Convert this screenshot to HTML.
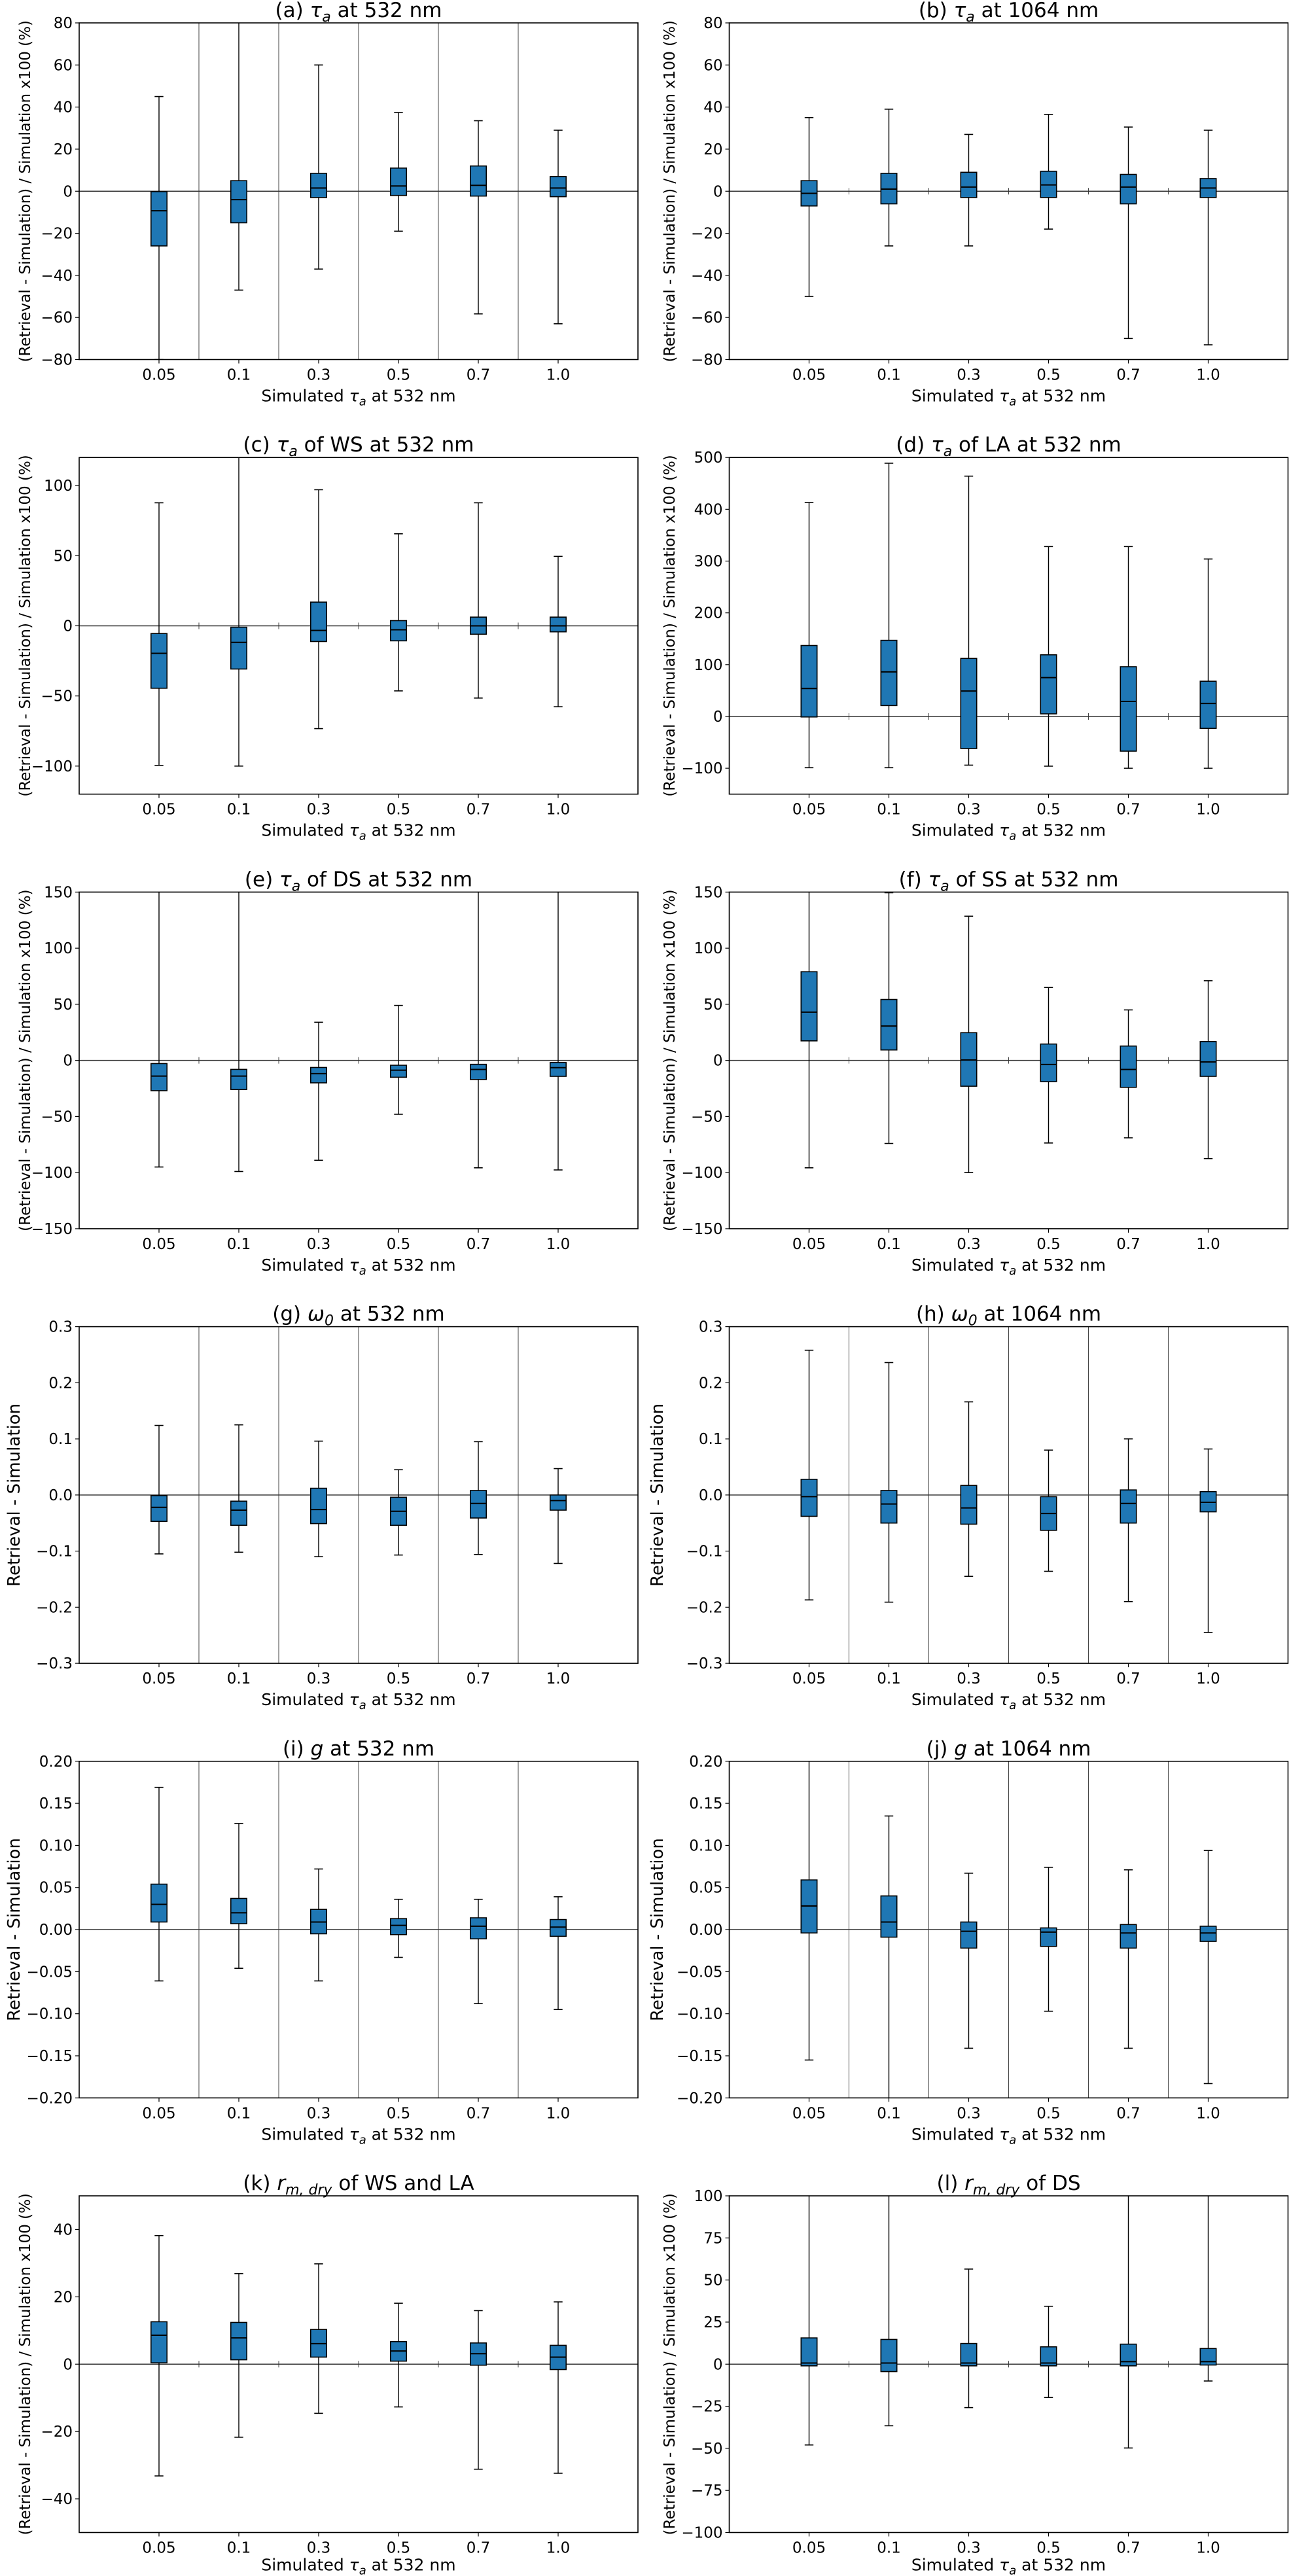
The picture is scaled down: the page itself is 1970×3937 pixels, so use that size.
<!DOCTYPE html>
<html><head><meta charset="utf-8">
<style>
html,body{margin:0;padding:0;background:#fff;}
svg{display:block;font-family:"DejaVu Sans","Liberation Sans",sans-serif;}
</style></head>
<body>
<svg id="fig" xmlns="http://www.w3.org/2000/svg" width="1970" height="3937" viewBox="0 0 1970 3937"></svg>
<script>
// ---- shared category data ----
const categories = ["0.05","0.1","0.3","0.5","0.7","1.0"];

// ---- panel (a) tau_a 532 ----
const aLow = [-80, -47, -37, -19, -58.3, -63];
const aQ1 = [-26, -15, -3, -2, -2.3, -2.6];
const aMed = [-9.3, -4, 1.5, 2.5, 2.8, 1.5];
const aQ3 = [-0.2, 5, 8.5, 11, 12, 7];
const aHigh = [45, 200, 60, 37.4, 33.5, 29];
const aTicks = [-80,-60,-40,-20,0,20,40,60,80];
// ---- panel (b) tau_a 1064 ----
const bLow = [-50, -26, -26, -18, -70, -73];
const bQ1 = [-7, -6, -3, -3, -6, -3];
const bMed = [-1, 1, 2, 3, 2, 1.5];
const bQ3 = [5, 8.5, 9, 9.5, 8, 6];
const bHigh = [35, 39, 27, 36.5, 30.5, 29];
const bTicks = [-80,-60,-40,-20,0,20,40,60,80];
// ---- panel (c) WS ----
const cLow = [-99.5, -100, -73.3, -46.4, -51.5, -57.7];
const cQ1 = [-44.5, -30.8, -11.2, -10.7, -6, -4.3];
const cMed = [-19.6, -11.8, -3.3, -2.8, 0, 0];
const cQ3 = [-5.5, -1, 16.9, 3.7, 6.2, 6.2];
const cHigh = [87.7, 200, 97, 65.6, 87.7, 49.5];
const cTicks = [-100,-50,0,50,100];
// ---- panel (d) LA ----
const dLow = [-99, -99, -94, -96, -100, -100];
const dQ1 = [-1, 21, -62, 5, -67, -23];
const dMed = [54, 86, 49, 75, 29, 25];
const dQ3 = [137, 147, 112, 119, 96, 68];
const dHigh = [413, 489, 464, 328, 328, 304];
const dTicks = [-100,0,100,200,300,400,500];
// ---- panel (e) DS ----
const eLow = [-95, -99, -89, -48, -95.7, -97.6];
const eQ1 = [-27, -26, -20, -15, -17, -14.2];
const eMed = [-14, -14, -11.8, -8.7, -8.1, -6.5];
const eQ3 = [-2.8, -8, -6.3, -4.3, -3.5, -1.8];
const eHigh = [200, 200, 34, 49, 200, 200];
const eTicks = [-150,-100,-50,0,50,100,150];
// ---- panel (f) SS ----
const fLow = [-95.7, -74, -100, -73.6, -69, -87.5];
const fQ1 = [17.4, 9.3, -23, -19, -24, -14.2];
const fMed = [43, 30.6, 0.4, -3.6, -8.1, -1.4];
const fQ3 = [79, 54.3, 24.7, 14.6, 12.8, 16.8];
const fHigh = [200, 149.4, 128.5, 65, 45, 71];
const fTicks = [-150,-100,-50,0,50,100,150];
// ---- panel (g) w0 532 ----
const gLow = [-0.105, -0.102, -0.110, -0.107, -0.106, -0.122];
const gQ1 = [-0.047, -0.054, -0.051, -0.054, -0.041, -0.027];
const gMed = [-0.022, -0.027, -0.026, -0.029, -0.015, -0.010];
const gQ3 = [-0.001, -0.011, 0.012, -0.004, 0.008, 0.0];
const gHigh = [0.124, 0.125, 0.096, 0.045, 0.095, 0.047];
const gTicks = [-0.3,-0.2,-0.1,0,0.1,0.2,0.3];
// ---- panel (h) w0 1064 ----
const hLow = [-0.187, -0.191, -0.145, -0.136, -0.190, -0.245];
const hQ1 = [-0.038, -0.050, -0.052, -0.063, -0.050, -0.030];
const hMed = [-0.003, -0.016, -0.023, -0.033, -0.015, -0.013];
const hQ3 = [0.028, 0.008, 0.017, -0.003, 0.009, 0.006];
const hHigh = [0.258, 0.236, 0.166, 0.080, 0.100, 0.082];
const hTicks = [-0.3,-0.2,-0.1,0,0.1,0.2,0.3];
// ---- panel (i) g 532 ----
const iLow = [-0.061, -0.046, -0.061, -0.033, -0.088, -0.095];
const iQ1 = [0.009, 0.007, -0.005, -0.006, -0.011, -0.008];
const iMed = [0.030, 0.020, 0.009, 0.005, 0.004, 0.003];
const iQ3 = [0.054, 0.037, 0.024, 0.013, 0.014, 0.012];
const iHigh = [0.169, 0.126, 0.072, 0.036, 0.036, 0.039];
const iTicks = [-0.2,-0.15,-0.1,-0.05,0,0.05,0.1,0.15,0.2];
// ---- panel (j) g 1064 ----
const jLow = [-0.155, -0.3, -0.141, -0.097, -0.141, -0.183];
const jQ1 = [-0.004, -0.009, -0.022, -0.020, -0.022, -0.014];
const jMed = [0.028, 0.009, -0.002, -0.003, -0.004, -0.004];
const jQ3 = [0.059, 0.040, 0.009, 0.002, 0.006, 0.004];
const jHigh = [0.3, 0.135, 0.067, 0.074, 0.071, 0.094];
const jTicks = [-0.2,-0.15,-0.1,-0.05,0,0.05,0.1,0.15,0.2];
// ---- panel (k) rm,dry WS & LA ----
const kLow = [-33.2, -21.7, -14.6, -12.7, -31.2, -32.4];
const kQ1 = [0.4, 1.3, 2.1, 0.9, -0.3, -1.6];
const kMed = [8.6, 7.8, 6.1, 3.9, 3.1, 2.1];
const kQ3 = [12.6, 12.4, 10.3, 6.7, 6.3, 5.6];
const kHigh = [38.2, 26.9, 29.8, 18.1, 15.9, 18.5];
const kTicks = [-40,-20,0,20,40];
// ---- panel (l) rm,dry DS ----
const lLow = [-48, -36.6, -25.8, -19.8, -49.8, -10];
const lQ1 = [-1, -4.4, -1, -1, -1, -0.5];
const lMed = [0.7, 0.7, 0.7, 0.7, 1.5, 1.5];
const lQ3 = [15.6, 14.7, 12.3, 10.3, 11.9, 9.3];
const lHigh = [200, 200, 56.5, 34.4, 200, 200];
const lTicks = [-100,-75,-50,-25,0,25,50,75,100];

const NS = "http://www.w3.org/2000/svg";
const svg = document.getElementById("fig");
const LABEL_PCT = "(Retrieval - Simulation) / Simulation x100 (%)";
const LABEL_ABS = "Retrieval - Simulation";

const panels = [
  {id:"a", sym:"τ", sub:"a", rest:" at 532 nm", lo:aLow,q1:aQ1,md:aMed,q3:aQ3,hi:aHigh,ticks:aTicks,ymin:-80,ymax:80,dec:0,grid:true,yl:LABEL_PCT},
  {id:"b", sym:"τ", sub:"a", rest:" at 1064 nm", lo:bLow,q1:bQ1,md:bMed,q3:bQ3,hi:bHigh,ticks:bTicks,ymin:-80,ymax:80,dec:0,grid:false,yl:LABEL_PCT},
  {id:"c", sym:"τ", sub:"a", rest:" of WS at 532 nm", lo:cLow,q1:cQ1,md:cMed,q3:cQ3,hi:cHigh,ticks:cTicks,ymin:-120,ymax:120,dec:0,grid:false,yl:LABEL_PCT},
  {id:"d", sym:"τ", sub:"a", rest:" of LA at 532 nm", lo:dLow,q1:dQ1,md:dMed,q3:dQ3,hi:dHigh,ticks:dTicks,ymin:-150,ymax:500,dec:0,grid:false,yl:LABEL_PCT},
  {id:"e", sym:"τ", sub:"a", rest:" of DS at 532 nm", lo:eLow,q1:eQ1,md:eMed,q3:eQ3,hi:eHigh,ticks:eTicks,ymin:-150,ymax:150,dec:0,grid:false,yl:LABEL_PCT},
  {id:"f", sym:"τ", sub:"a", rest:" of SS at 532 nm", lo:fLow,q1:fQ1,md:fMed,q3:fQ3,hi:fHigh,ticks:fTicks,ymin:-150,ymax:150,dec:0,grid:false,yl:LABEL_PCT},
  {id:"g", sym:"ω", sub:"0", rest:" at 532 nm", lo:gLow,q1:gQ1,md:gMed,q3:gQ3,hi:gHigh,ticks:gTicks,ymin:-0.3,ymax:0.3,dec:1,grid:true,yl:LABEL_ABS},
  {id:"h", sym:"ω", sub:"0", rest:" at 1064 nm", lo:hLow,q1:hQ1,md:hMed,q3:hQ3,hi:hHigh,ticks:hTicks,ymin:-0.3,ymax:0.3,dec:1,grid:true,yl:LABEL_ABS},
  {id:"i", sym:"g", sub:"", rest:" at 532 nm", lo:iLow,q1:iQ1,md:iMed,q3:iQ3,hi:iHigh,ticks:iTicks,ymin:-0.2,ymax:0.2,dec:2,grid:true,yl:LABEL_ABS},
  {id:"j", sym:"g", sub:"", rest:" at 1064 nm", lo:jLow,q1:jQ1,md:jMed,q3:jQ3,hi:jHigh,ticks:jTicks,ymin:-0.2,ymax:0.2,dec:2,grid:true,yl:LABEL_ABS},
  {id:"k", sym:"r", sub:"m, dry", rest:" of WS and LA", lo:kLow,q1:kQ1,md:kMed,q3:kQ3,hi:kHigh,ticks:kTicks,ymin:-50,ymax:50,dec:0,grid:false,yl:LABEL_PCT},
  {id:"l", sym:"r", sub:"m, dry", rest:" of DS", lo:lLow,q1:lQ1,md:lMed,q3:lQ3,hi:lHigh,ticks:lTicks,ymin:-100,ymax:100,dec:0,grid:false,yl:LABEL_PCT}
];

function mk(tag, attrs, parent){
  const e = document.createElementNS(NS, tag);
  for (const k in attrs) e.setAttribute(k, attrs[k]);
  (parent||svg).appendChild(e);
  return e;
}
function fmt(v, dec){
  const s = Math.abs(v).toFixed(dec);
  return (v < -1e-9 ? "\u2212" : "") + s;
}

const W = 854, H = 514.5;
const defs = mk("defs", {});

panels.forEach((p, idx) => {
  const col = idx % 2, row = Math.floor(idx / 2);
  const L = col === 0 ? 121 : 1114.5;
  const T = 35 + 664.2 * row;
  const xS = i => L + (i + 1) * W / 7;
  const xD = d => L + d * W / 7;
  const yS = v => T + (p.ymax - v) / (p.ymax - p.ymin) * H;

  const g = mk("g", {});
  
  

  const cp = mk("clipPath", {id: "clip" + p.id}, defs);
  mk("rect", {x: L, y: T, width: W, height: H}, cp);

  const title = mk("text", {x: L + W / 2, y: T - 9, "text-anchor": "middle", "font-size": "31", fill: "#000"}, g);
  
  
  const t1 = mk("tspan", {}, title); t1.textContent = "(" + p.id + ") ";
  const t2 = mk("tspan", {"font-style": "italic"}, title); t2.textContent = p.sym;
  if (p.sub) {
    const t3 = mk("tspan", {"font-style": "italic", "font-size": "22", dy: "7"}, title); t3.textContent = p.sub;
    const t4 = mk("tspan", {dy: "-7"}, title); t4.textContent = p.rest;
  } else {
    const t4 = mk("tspan", {}, title); t4.textContent = p.rest;
  }

  const plot = mk("g", {"clip-path": "url(#clip" + p.id + ")"}, g);

  for (let d = 1.5; d < 6; d += 1) {
    if (p.grid) {
      const gl = mk("line", {x1: xD(d), x2: xD(d), y1: T, y2: T + H, stroke: "#444", "stroke-width": "1"}, plot);
      
      
    } else {
      const gl = mk("line", {x1: xD(d), x2: xD(d), y1: yS(0) - 5, y2: yS(0) + 5, stroke: "#444", "stroke-width": "1"}, plot);
      
      
    }
  }
  const zl = mk("line", {x1: L, x2: L + W, y1: yS(0), y2: yS(0), stroke: "#333", "stroke-width": "1.5"}, plot);
  
  

  categories.forEach((c, i) => {
    const x = xS(i);
    const bw = 0.2 * W / 7, cw = 0.11 * W / 7;
    const bg = mk("g", {}, plot);
    
    
    const wh = mk("line", {x1: x, x2: x, y1: yS(p.hi[i]), y2: yS(p.q3[i]), stroke: "#000", "stroke-width": "1.4"}, bg);
    
    
    const wl = mk("line", {x1: x, x2: x, y1: yS(p.q1[i]), y2: yS(p.lo[i]), stroke: "#000", "stroke-width": "1.4"}, bg);
    
    
    const ch = mk("line", {x1: x - cw / 2, x2: x + cw / 2, y1: yS(p.hi[i]), y2: yS(p.hi[i]), stroke: "#000", "stroke-width": "1.6"}, bg);
    
    
    const cl = mk("line", {x1: x - cw / 2, x2: x + cw / 2, y1: yS(p.lo[i]), y2: yS(p.lo[i]), stroke: "#000", "stroke-width": "1.6"}, bg);
    
    
    const r = mk("rect", {x: x - bw / 2, y: yS(p.q3[i]), width: bw, height: Math.max(0.5, yS(p.q1[i]) - yS(p.q3[i])), fill: "#1f77b4", stroke: "#000", "stroke-width": "1.6"}, bg);
    
    
    const m = mk("line", {x1: x - bw / 2, x2: x + bw / 2, y1: yS(p.md[i]), y2: yS(p.md[i]), stroke: "#000", "stroke-width": "2"}, bg);
    
    
  });

  const fr = mk("rect", {x: L, y: T, width: W, height: H, fill: "none", stroke: "#000", "stroke-width": "1.6"}, g);
  
  

  p.ticks.forEach(v => {
    const y = yS(v);
    mk("line", {x1: L - 6, x2: L, y1: y, y2: y, stroke: "#000", "stroke-width": "1.2"}, g);
    const tl = mk("text", {x: L - 10, y: y + 8, "text-anchor": "end", "font-size": "23", fill: "#000"}, g);
    
    
    tl.textContent = fmt(v, p.dec);
  });
  categories.forEach((c, i) => {
    const x = xS(i);
    mk("line", {x1: x, x2: x, y1: T + H, y2: T + H + 6, stroke: "#000", "stroke-width": "1.2"}, g);
    const tl = mk("text", {x: x, y: T + H + 31, "text-anchor": "middle", "font-size": "23", fill: "#000"}, g);
    
    
    tl.textContent = c;
  });

  const xlY = row === 5 ? T + H + 58 : T + H + 64;
  const xl = mk("text", {x: L + W / 2, y: xlY, "text-anchor": "middle", "font-size": "25", fill: "#000"}, g);
  
  
  const x1 = mk("tspan", {}, xl); x1.textContent = "Simulated ";
  const x2 = mk("tspan", {"font-style": "italic"}, xl); x2.textContent = "τ";
  const x3 = mk("tspan", {"font-style": "italic", "font-size": "18", dy: "6"}, xl); x3.textContent = "a";
  const x4 = mk("tspan", {dy: "-6"}, xl); x4.textContent = " at 532 nm";

  const isAbs = p.yl === LABEL_ABS;
  const cx = col === 0 ? (isAbs ? 22 : 39) : (isAbs ? 1005 : 1024);
  const cy = T + H / 2;
  const yfs = isAbs ? 26 : 23;
  const ylab = mk("text", {x: cx, y: cy, "text-anchor": "middle", "dominant-baseline": "central", "font-size": yfs, fill: "#000", transform: "rotate(-90 " + cx + " " + cy + ")"}, g);
  
  
  ylab.textContent = p.yl;
});
</script>
</body></html>
